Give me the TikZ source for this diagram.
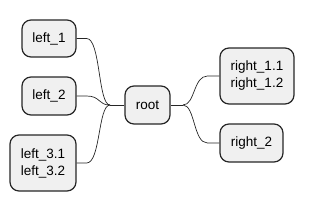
\documentclass[tikz,border=0pt]{standalone}
\usepackage{fontspec}
\setmainfont{Liberation Sans}

\begin{document}
\begin{tikzpicture}[x=1pt,y=-1pt,
  topic/.style={draw=black!85,line width=1.2pt,fill=black!6,rounded corners=9pt,
    align=center,font=\fontsize{13.5}{17}\selectfont,inner sep=0pt},
  link/.style={black!85,line width=0.7pt}]
  \useasboundingbox (0,0) rectangle (314,210);
  \node[topic,minimum width=45pt,minimum height=38pt] (root) at (147.5,105) {root};
  \node[topic,minimum width=54pt,minimum height=37pt] (l1) at (49,38.5) {left\_1};
  \node[topic,minimum width=54pt,minimum height=38pt] (l2) at (49,96) {left\_2};
  \node[topic,minimum width=66pt,minimum height=56pt] (l3) at (43,163) {left\_3.1\\left\_3.2};
  \node[topic,minimum width=74pt,minimum height=56pt] (r1) at (257,76) {right\_1.1\\right\_1.2};
  \node[topic,minimum width=63pt,minimum height=38pt] (r2) at (251.5,143) {right\_2};
  \coordinate (hl) at (110,105);
  \coordinate (hr) at (183,105);
  \draw[link] (root.west) -- (hl);
  \draw[link] (root.east) -- (hr);
  \foreach \n in {l1,l2,l3}
    \draw[link] (hl) .. controls +(-12,0) and +(14,0) .. ([xshift=10pt]\n.east) -- (\n.east);
  \foreach \n in {r1,r2}
    \draw[link] (hr) .. controls +(12,0) and +(-14,0) .. ([xshift=-12pt]\n.west) -- (\n.west);
\end{tikzpicture}
\end{document}
